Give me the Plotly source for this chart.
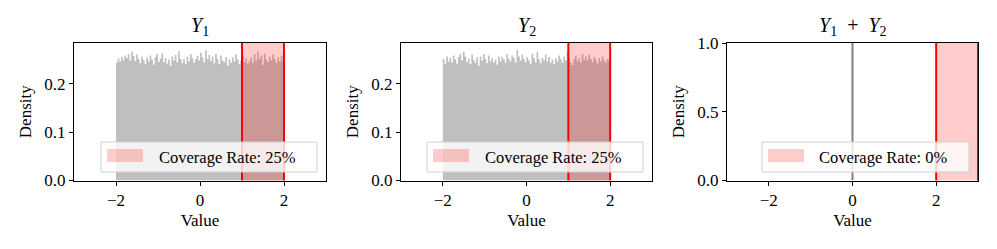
import plotly.graph_objects as go
from plotly.subplots import make_subplots

# ---------------- data ----------------
bin_edges_start = -2.0
bin_width = 0.04
y1_density = [
    0.243, 0.252, 0.246, 0.255, 0.249, 0.258, 0.253, 0.261, 0.248, 0.266,
    0.257, 0.247, 0.260, 0.251, 0.242, 0.256, 0.249, 0.240, 0.254, 0.246,
    0.258, 0.250, 0.239, 0.255, 0.261, 0.245, 0.252, 0.263, 0.244, 0.253,
    0.241, 0.250, 0.237, 0.256, 0.248, 0.259, 0.244, 0.267, 0.251, 0.242,
    0.250, 0.240, 0.255, 0.246, 0.261, 0.253, 0.243, 0.251, 0.258, 0.248,
    0.264, 0.254, 0.244, 0.269, 0.251, 0.259, 0.247, 0.256, 0.242, 0.262,
    0.251, 0.240, 0.258, 0.248, 0.244, 0.255, 0.237, 0.250, 0.243, 0.254,
    0.246, 0.260, 0.250, 0.240, 0.248, 0.256, 0.244, 0.252, 0.241, 0.247,
    0.254, 0.243, 0.261, 0.248, 0.266, 0.251, 0.258, 0.239, 0.262, 0.250,
    0.244, 0.256, 0.248, 0.260, 0.251, 0.243, 0.255, 0.246, 0.258, 0.249,
]
y2_density = [
    0.251, 0.240, 0.256, 0.246, 0.253, 0.243, 0.258, 0.250, 0.241, 0.255,
    0.262, 0.248, 0.266, 0.256, 0.244, 0.252, 0.240, 0.260, 0.249, 0.243,
    0.254, 0.237, 0.256, 0.248, 0.261, 0.251, 0.242, 0.258, 0.246, 0.253,
    0.243, 0.250, 0.239, 0.256, 0.246, 0.255, 0.250, 0.243, 0.261, 0.251,
    0.246, 0.258, 0.253, 0.243, 0.269, 0.256, 0.248, 0.260, 0.251, 0.244,
    0.255, 0.248, 0.240, 0.262, 0.253, 0.244, 0.266, 0.250, 0.242, 0.253,
    0.248, 0.260, 0.246, 0.255, 0.243, 0.250, 0.240, 0.253, 0.246, 0.258,
    0.251, 0.243, 0.256, 0.248, 0.267, 0.253, 0.244, 0.238, 0.251, 0.258,
    0.246, 0.253, 0.243, 0.261, 0.250, 0.256, 0.248, 0.260, 0.251, 0.244,
    0.255, 0.250, 0.241, 0.253, 0.246, 0.256, 0.248, 0.243, 0.251, 0.248,
]
sum_point = [0.0]          # Y1 + Y2 collapses to a single value
sum_density_peak = [50.0]  # very tall spike (clipped by the axis)

titles = ["<i>Y</i><sub>1</sub>", "<i>Y</i><sub>2</sub>",
          "<i>Y</i><sub>1</sub>  +  <i>Y</i><sub>2</sub>"]
intervals = [(1.0, 2.0), (1.0, 2.0), (2.0, 3.0)]
coverage = [25, 25, 0]
x_range = [-3, 3]
x_ticks = [-2, 0, 2]
y_ranges = [[0, 0.284], [0, 0.284], [0, 1.0]]
y_ticks = [[0.0, 0.1, 0.2], [0.0, 0.1, 0.2], [0.0, 0.5, 1.0]]

# ---------------- figure ----------------
FONT = "Liberation Serif"
FS = 17
W, H = 997, 249
x_dom = [[74 / W, 326 / W], [401 / W, 652 / W], [727 / W, 978 / W]]
y_dom = [(H - 180.5) / H, (H - 43) / H]
# manual legend geometry (pixels)
leg_box = [(101, 317), (427, 643), (762, 969)]
leg_patch = [(107, 143), (433, 469), (768, 804)]
leg_text_x = [157, 483, 817]
leg_y = (142, 172)
patch_y = (149, 162)


def px(x):
    return x / W


def py(y):
    return (H - y) / H


fig = make_subplots(rows=1, cols=3)

edges = [bin_edges_start + i * bin_width for i in range(len(y1_density) + 1)]
for i, dens in enumerate([y1_density, y2_density]):
    xs_full = [edges[0]] + edges + [edges[-1]]
    ys_full = [0] + list(dens) + [dens[-1]] + [0]
    fig.add_trace(go.Scatter(x=xs_full, y=ys_full, mode="lines", line_shape="hv",
                             line=dict(width=0, color="rgba(128,128,128,0.5)"),
                             fill="tozeroy", fillcolor="rgba(128,128,128,0.5)",
                             showlegend=False, hoverinfo="skip"),
                  row=1, col=i + 1)

fig.add_trace(go.Scatter(x=[sum_point[0], sum_point[0]], y=[0, sum_density_peak[0]],
                         mode="lines", line=dict(width=2, color="#808080"),
                         showlegend=False, hoverinfo="skip"), row=1, col=3)

for i in range(3):
    lo, hi = intervals[i]
    xr = "x" if i == 0 else f"x{i + 1}"
    yr = "y domain" if i == 0 else f"y{i + 1} domain"
    fig.add_shape(type="rect", xref=xr, yref=yr, x0=lo, x1=hi, y0=0, y1=1,
                  fillcolor="rgba(255,0,0,0.2)", line=dict(width=0))
    for xv in (lo, hi):
        fig.add_shape(type="line", xref=xr, yref=yr, x0=xv, x1=xv, y0=0, y1=1,
                      line=dict(color="red", width=2))
    fig.add_annotation(text=titles[i], xref=f"{xr} domain", yref=yr, x=0.5, y=1,
                       xanchor="center", yanchor="bottom", yshift=2,
                       showarrow=False, font=dict(family=FONT, size=20, color="black"))
    # legend (matplotlib-style, drawn manually)
    bx0, bx1 = leg_box[i]
    fig.add_shape(type="rect", xref="paper", yref="paper",
                  x0=px(bx0), x1=px(bx1), y0=py(leg_y[1]), y1=py(leg_y[0]),
                  fillcolor="rgba(255,255,255,0.8)", line=dict(color="#d0d0d0", width=1))
    p0, p1 = leg_patch[i]
    fig.add_shape(type="rect", xref="paper", yref="paper",
                  x0=px(p0), x1=px(p1), y0=py(patch_y[1]), y1=py(patch_y[0]),
                  fillcolor="rgba(255,0,0,0.2)", line=dict(width=0))
    fig.add_annotation(text=f"Coverage Rate: {coverage[i]}%", xref="paper", yref="paper",
                       x=px(leg_text_x[i]), y=py((leg_y[0] + leg_y[1]) / 2),
                       xanchor="left", yanchor="middle", showarrow=False,
                       font=dict(family=FONT, size=16.5, color="black"))

axis_common = dict(showline=True, linecolor="black", linewidth=1, mirror=True,
                   ticks="outside", ticklen=4, tickwidth=1, tickcolor="black",
                   showgrid=False, zeroline=False, automargin=False,
                   tickfont=dict(family=FONT, size=FS, color="black"))
for i in range(3):
    xa = "xaxis" if i == 0 else f"xaxis{i + 1}"
    ya = "yaxis" if i == 0 else f"yaxis{i + 1}"
    fig.layout[xa].update(domain=x_dom[i], range=x_range, tickvals=x_ticks,
                          title=dict(text="Value", standoff=5,
                                     font=dict(family=FONT, size=FS, color="black")),
                          **axis_common)
    fig.layout[ya].update(domain=y_dom, range=y_ranges[i], tickvals=y_ticks[i],
                          tickformat=".1f",
                          title=dict(text="Density", standoff=8,
                                     font=dict(family=FONT, size=FS, color="black")),
                          **axis_common)

fig.update_layout(
    showlegend=False,
    width=W, height=H, autosize=False,
    margin=dict(l=0, r=0, t=0, b=0, autoexpand=False),
    plot_bgcolor="white", paper_bgcolor="white",
    font=dict(family=FONT, color="black"),
)

fig.write_html("out.html", config={"displayModeBar": False},
               post_script="document.body.style.margin='0';document.body.style.padding='0';")
